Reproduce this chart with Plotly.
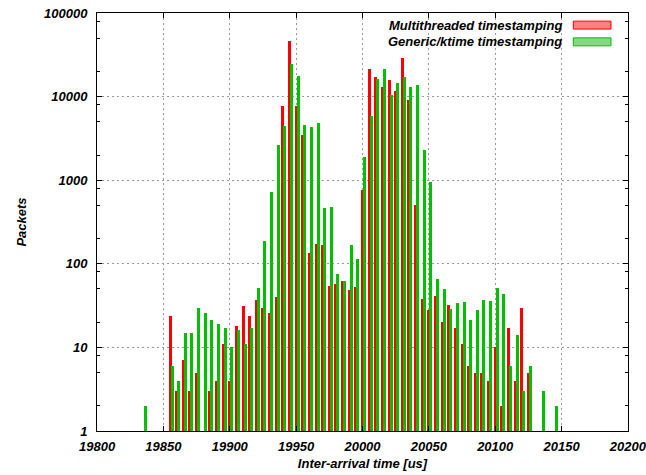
import plotly.graph_objects as go

# Inter-arrival time bins [us]
bins = list(range(19835, 20150, 5))

# Packets per bin (None = no packets)
multithreaded = [
    None, None, None, None, 24, 3, 7, 3, 5, None,          # 19835-19880
    3, 4, 11, 4, 18, 31, 24, 37, 30, 26,                   # 19885-19930
    40, 7800, 45700, 7700, 3470, 135, 174, 166, 55, 58,    # 19935-19980
    63, 48, 53, 760, 21500, 17100, 12900, 15600, 11700, 28800,  # 19985-20030
    9100, 500, 38, 28, 41, 20, 32, 17, 11, 6,              # 20035-20080
    5, 5, 4, 10, 2, 17, 4, 30, 5, None,                    # 20085-20130
    None, None, None,                                      # 20135-20145
]
generic = [
    2, None, None, None, 6, 4, 15, 15, 30, 26,
    21, 19, 17, 10, 16, 11, 17, 52, 190, 720,
    2630, 4460, 24600, 17800, 4570, 4300, 4880, 470, 478, 76,
    63, 166, 115, 1900, 5880, 16300, 21300, 10400, 14700, 17100,
    13100, 13700, 2290, 945, 66, 50, 29, 34, 35, 21,
    28, 37, 36, 52, 44, 6, 14, 3, 6, None,
    3, None, 2,
]

series_names = ["Multithreaded timestamping", "Generic/ktime timestamping"]
y_tickvals = [1, 10, 100, 1000, 10000, 100000]
y_ticktext = ["1", "10", "100", "1000", "10000", "100000"]
y_minor = [m * 10 ** e for e in range(0, 5) for m in (2, 5, 8)]
x_tickvals = list(range(19800, 20201, 50))
x_ticktext = [str(v) for v in x_tickvals]

RED = "#ff0000"
GREEN = "#00c000"
font = dict(family="Liberation Sans, Arial, sans-serif", size=13,
            color="#000000", weight="bold", style="italic")

fig = go.Figure()
fig.add_trace(go.Bar(x=bins, y=multithreaded, name=series_names[0],
                     width=2.3, offset=-1.15,
                     marker=dict(color=RED, line=dict(width=0))))
fig.add_trace(go.Bar(x=bins, y=generic, name=series_names[1],
                     width=2.3, offset=0.35,
                     marker=dict(color=GREEN, line=dict(width=0))))

axis_common = dict(
    showline=True, linecolor="#000000", linewidth=1, mirror="ticks",
    ticks="inside", ticklen=5, tickcolor="#000000",
    showgrid=True, gridcolor="#9a9a9a", griddash="2px,3px", gridwidth=1,
    zeroline=False, tickfont=font, automargin=False,
    ticklabeloverflow="allow",
)

fig.update_layout(
    width=646, height=475,
    margin=dict(l=97, r=18, t=13, b=44),
    paper_bgcolor="white", plot_bgcolor="white",
    barmode="overlay", bargap=0,
    showlegend=False,
    font=font,
    xaxis=dict(range=[19799.95, 20200.05], tickvals=x_tickvals, ticktext=x_ticktext,
               title=dict(text="Inter-arrival time [us]", font=font, standoff=6),
               ticklabelstandoff=3,
               **axis_common),
    yaxis=dict(type="log", range=[0, 5], tickvals=y_tickvals, ticktext=y_ticktext,
               title=dict(text="Packets", font=font, standoff=14),
               minor=dict(tickvals=y_minor, ticks="inside", ticklen=3,
                          tickcolor="#000000", showgrid=False),
               ticklabelstandoff=6,
               **axis_common),
)

# Legend (text right-aligned, sample box on the right, as in the original)
legend_rows = [(series_names[0], RED, "#ff8080", 0.971),
               (series_names[1], GREEN, "#80dc80", 0.931)]
for name, edge, fill, yc in legend_rows:
    fig.add_annotation(x=0.880, y=yc, xref="paper", yref="paper",
                       text=name, showarrow=False, xanchor="right",
                       yanchor="middle", font=font)
    fig.add_shape(type="rect", xref="paper", yref="paper",
                  x0=0.897, x1=0.968, y0=yc - 0.0095, y1=yc + 0.0095,
                  line=dict(color=edge, width=1), fillcolor=fill)

fig.write_html("out.html")
